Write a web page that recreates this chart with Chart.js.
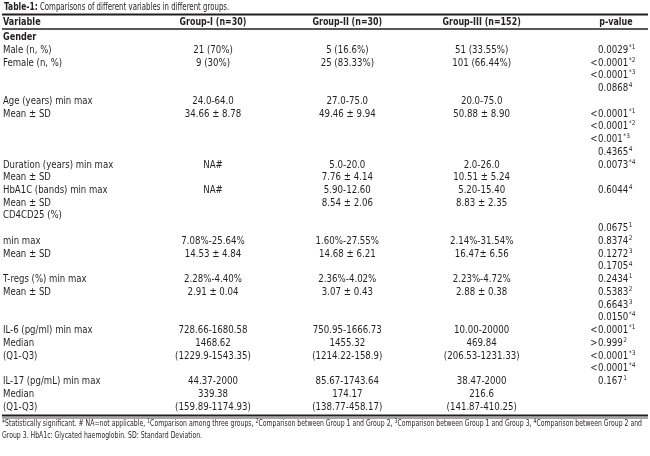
<!DOCTYPE html>
<html>
<head>
<meta charset="utf-8">
<script src="https://cdn.jsdelivr.net/npm/chart.js@4.4.1/dist/chart.umd.min.js"></script>
<style>
  html, body { margin: 0; padding: 0; background: #fff; }
  #wrap { width: 650px; height: 456px; }
</style>
</head>
<body>
<div id="wrap"><canvas id="myChart"></canvas></div>
<script>
// table content, one entry per printed line
let headers = ['Group-I (n=30)', 'Group-II (n=30)', 'Group-III (n=152)', 'p-value']

let variables = ['Gender', 'Male (n, %)', 'Female (n, %)', '', '',
  'Age (years) min max', 'Mean \u00b1 SD', '', '', '',
  'Duration (years) min max', 'Mean \u00b1 SD', 'HbA1C (bands) min max', 'Mean \u00b1 SD', 'CD4CD25 (%)',
  '', 'min max', 'Mean \u00b1 SD', '', 'T-regs (%) min max',
  'Mean \u00b1 SD', '', '', 'IL-6 (pg/ml) min max', 'Median',
  '(Q1-Q3)', '', 'IL-17 (pg/mL) min max', 'Median', '(Q1-Q3)']

let group1 = ['', '21 (70%)', '9 (30%)', '', '',
  '24.0-64.0', '34.66 \u00b1 8.78', '', '', '',
  'NA#', '', 'NA#', '', '',
  '', '7.08%-25.64%', '14.53 \u00b1 4.84', '', '2.28%-4.40%',
  '2.91 \u00b1 0.04', '', '', '728.66-1680.58', '1468.62',
  '(1229.9-1543.35)', '', '44.37-2000', '339.38', '(159.89-1174.93)']

let group2 = ['', '5 (16.6%)', '25 (83.33%)', '', '',
  '27.0-75.0', '49.46 \u00b1 9.94', '', '', '',
  '5.0-20.0', '7.76 \u00b1 4.14', '5.90-12.60', '8.54 \u00b1 2.06', '',
  '', '1.60%-27.55%', '14.68 \u00b1 6.21', '', '2.36%-4.02%',
  '3.07 \u00b1 0.43', '', '', '750.95-1666.73', '1455.32',
  '(1214.22-158.9)', '', '85.67-1743.64', '174.17', '(138.77-458.17)']

let group3 = ['', '51 (33.55%)', '101 (66.44%)', '', '',
  '20.0-75.0', '50.88 \u00b1 8.90', '', '', '',
  '2.0-26.0', '10.51 \u00b1 5.24', '5.20-15.40', '8.83 \u00b1 2.35', '',
  '', '2.14%-31.54%', '16.47\u00b1 6.56', '', '2.23%-4.72%',
  '2.88 \u00b1 0.38', '', '', '10.00-20000', '469.84',
  '(206.53-1231.33)', '', '38.47-2000', '216.6', '(141.87-410.25)']

let pValues = ['', '0.0029', '<0.0001', '<0.0001', '0.0868',
  '', '<0.0001', '<0.0001', '<0.001', '0.4365',
  '0.0073', '', '0.6044', '', '',
  '0.0675', '0.8374', '0.1272', '0.1705', '0.2434',
  '0.5383', '0.6643', '0.0150', '<0.0001', '>0.999',
  '<0.0001', '<0.0001', '0.167', '', '']

let pNotes = ['', '*1', '*2', '*3', '4',
  '', '*1', '*2', '*3', '4',
  '*4', '', '4', '', '',
  '1', '2', '3', '4', '1',
  '2', '3', '*4', '*1', '2',
  '*3', '*4', '1', '', '']

let title = ['Table-1:', ' Comparisons of different variables in different groups.']

let footnote1 = [
  ['*Statistically significant. # NA=not applicable, ', ''], ['1', 'sup'],
  ['Comparison among three groups, ', ''], ['2', 'sup'],
  ['Comparison between Group 1 and Group 2, ', ''], ['3', 'sup'],
  ['Comparison between Group 1 and Group 3, ', ''], ['4', 'sup'],
  ['Comparison between Group 2 and', '']
]
let footnote2 = 'Group 3. HbA1c: Glycated haemoglobin. SD: Standard Deviation.'

let columns = [group1, group2, group3]

const FONT = '"Liberation Sans Narrow", "DejaVu Sans Condensed", sans-serif'
const INK = '#231f20'

function font(size, bold) {
  return (bold ? 'bold ' : '') + size + 'px ' + FONT
}

// draws text squeezed horizontally by sx, returns drawn width
function squeezed(ctx, text, x, y, sx, align) {
  const w = ctx.measureText(text).width * sx
  let left = x
  if (align === 'center') left = x - w / 2
  if (align === 'right') left = x - w
  ctx.save()
  ctx.translate(left, y)
  ctx.scale(sx, 1)
  ctx.textAlign = 'left'
  ctx.fillText(text, 0, 0)
  ctx.restore()
  return w
}

const tablePlugin = {
  id: 'tableText',
  afterDraw(chart) {
    const ctx = chart.ctx
    const x = chart.scales.x
    const y = chart.scales.y
    const W = chart.width
    ctx.save()
    ctx.fillStyle = INK
    ctx.strokeStyle = INK
    ctx.textBaseline = 'middle'

    const top = y.getPixelForValue(0)
    const bottom = y.getPixelForValue(variables.length - 1)
    const headY = top - 15.5

    // title
    ctx.font = font(10.5, true)
    let tw = squeezed(ctx, title[0], 4, 7, 0.8, 'left')
    ctx.font = font(10.5, false)
    squeezed(ctx, title[1], 4 + tw, 7, 0.74, 'left')

    // rules
    ctx.lineWidth = 2
    ctx.beginPath(); ctx.moveTo(2, headY - 7.5); ctx.lineTo(W - 2, headY - 7.5); ctx.stroke()
    ctx.lineWidth = 1.5
    ctx.beginPath(); ctx.moveTo(2, headY + 7); ctx.lineTo(W - 2, headY + 7); ctx.stroke()
    ctx.lineWidth = 2
    ctx.beginPath(); ctx.moveTo(2, bottom + 8.5); ctx.lineTo(W - 2, bottom + 8.5); ctx.stroke()
    ctx.lineWidth = 0.8
    ctx.beginPath(); ctx.moveTo(2, bottom + 11); ctx.lineTo(W - 2, bottom + 11); ctx.stroke()

    // header row
    ctx.font = font(10.5, true)
    squeezed(ctx, 'Variable', 3, headY, 0.86, 'left')
    headers.forEach((h, i) => squeezed(ctx, h, x.getPixelForValue(i), headY, 0.84, 'center'))

    // variable column
    variables.forEach((v, r) => {
      if (!v) return
      ctx.font = font(r === 0 ? 10.5 : 10, r === 0)
      squeezed(ctx, v, 3, y.getPixelForValue(r), r === 0 ? 0.86 : 0.95, 'left')
    })

    // group columns
    ctx.font = font(10, false)
    columns.forEach((col, c) => {
      col.forEach((v, r) => {
        if (v) squeezed(ctx, v, x.getPixelForValue(c), y.getPixelForValue(r), 0.96, 'center')
      })
    })

    // p-values: digits start on a common edge, < or > hangs to the left
    const px = x.getPixelForValue(3) - 18
    pValues.forEach((v, r) => {
      if (!v) return
      const yy = y.getPixelForValue(r)
      let body = v
      ctx.font = font(10, false)
      if (v[0] === '<' || v[0] === '>') {
        squeezed(ctx, v[0], px - 0.5, yy, 0.96, 'right')
        body = v.slice(1)
      }
      const bw = squeezed(ctx, body, px, yy, 0.96, 'left')
      ctx.font = font(6.5, false)
      squeezed(ctx, pNotes[r], px + bw + 0.5, yy - 3, 1, 'left')
    })

    // footnotes, squeezed so the first line ends near the right edge
    const fy = bottom + 17
    let natural = 0
    footnote1.forEach(([t, kind]) => {
      ctx.font = font(kind === 'sup' ? 6.5 : 8.5, false)
      natural += ctx.measureText(t).width
    })
    const fsx = (W - 10) / natural
    let fx = 2
    footnote1.forEach(([t, kind]) => {
      if (kind === 'sup') {
        ctx.font = font(6.5, false)
        fx += squeezed(ctx, t, fx, fy - 3, fsx, 'left')
      } else {
        ctx.font = font(8.5, false)
        fx += squeezed(ctx, t, fx, fy, fsx, 'left')
      }
    })
    ctx.font = font(8.5, false)
    squeezed(ctx, footnote2, 2, fy + 12, fsx, 'left')
    ctx.restore()
  }
}

let myChart = document.getElementById('myChart').getContext('2d')
let table = new Chart(myChart, {
  type: 'scatter',
  data: { datasets: [] },
  options: {
    responsive: true,
    maintainAspectRatio: false,
    animation: false,
    events: [],
    layout: { padding: { left: 213, right: 34, top: 37.5, bottom: 49 } },
    plugins: { legend: { display: false }, tooltip: { enabled: false } },
    scales: {
      x: { type: 'category', labels: headers, offset: false, display: false },
      y: { type: 'category', labels: variables.map((v, i) => i + ':' + v), offset: false, display: false }
    }
  },
  plugins: [tablePlugin]
})
</script>
</body>
</html>
